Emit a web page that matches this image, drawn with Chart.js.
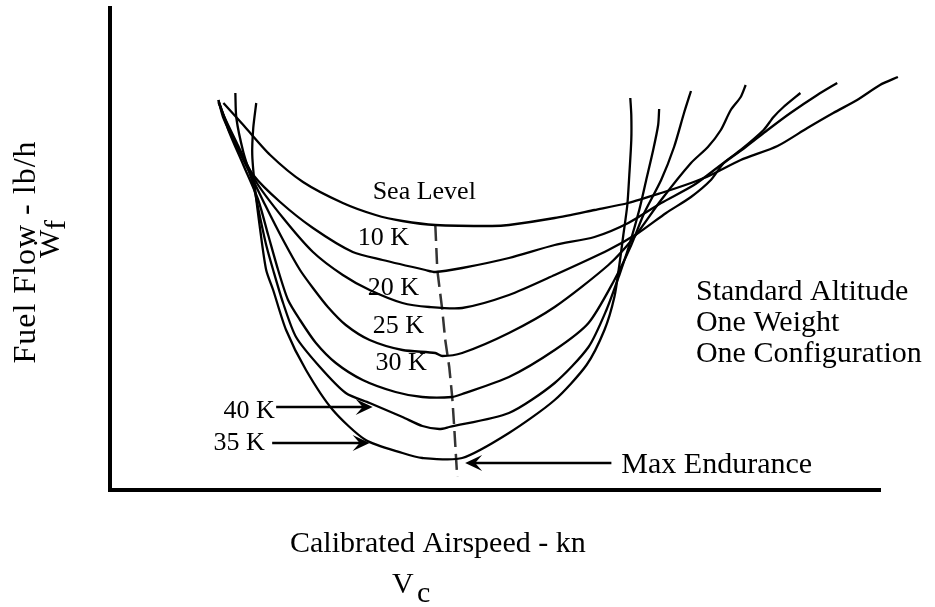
<!DOCTYPE html>
<html>
<head>
<meta charset="utf-8">
<script src="https://cdn.jsdelivr.net/npm/chart.js@4.4.1/dist/chart.umd.min.js"></script>
<style>
  html, body { margin: 0; padding: 0; background: #fff; }
  #wrap { width: 935px; height: 607px; }
</style>
</head>
<body>
<div id="wrap"><canvas id="fuelFlowChart" width="935" height="607"></canvas></div>
<script>
// schematic values: airspeed (kn) vs fuel flow (lb/h)
const altitudes = ['Sea Level', '10 K', '20 K', '25 K', '30 K', '40 K', '35 K'];

const seaLevelSpeed = [56, 66, 79.5, 96, 116, 132.5, 146, 162.5, 191, 199.5, 222.5, 242.5, 259.5, 276, 291, 301, 316, 334.5, 349.5, 362.5, 374.5, 386, 395];
const seaLevelFlow  = [3850, 3630, 3330, 3060, 2850, 2730, 2670, 2630, 2620, 2630, 2700, 2780, 2850, 2950, 3050, 3130, 3280, 3420, 3600, 3750, 3880, 4030, 4110];

const alt10kSpeed = [53.5, 56, 62.5, 71, 84.5, 101, 121, 136, 157.5, 162.5, 176, 199.5, 222.5, 242.5, 259.5, 276, 292.5, 306, 318.5, 329.5, 341, 354.5, 364.5];
const alt10kFlow  = [3880, 3700, 3430, 3130, 2860, 2600, 2360, 2280, 2180, 2160, 2200, 2300, 2430, 2510, 2650, 2850, 3030, 3230, 3410, 3580, 3750, 3930, 4050];

const alt20kSpeed = [53.5, 56, 62.5, 72.5, 86, 101, 116, 129.5, 146, 159.5, 176, 199.5, 222.5, 249.5, 264.5, 278.5, 291, 301, 307.5, 316, 327.5, 332.5, 337.5, 346];
const alt20kFlow  = [3860, 3730, 3460, 3060, 2700, 2360, 2130, 1980, 1850, 1810, 1800, 1930, 2130, 2380, 2550, 2750, 2910, 3080, 3250, 3380, 3580, 3710, 3810, 3950];

const alt25kSpeed = [54, 60, 68.5, 77, 86, 94.5, 101, 108.5, 117.5, 129.5, 146, 162.5, 166, 176, 199.5, 222.5, 249.5, 262.5, 276, 291, 299.5, 306, 311, 316, 318.5];
const alt25kFlow  = [3840, 3530, 3180, 2830, 2480, 2180, 2000, 1810, 1630, 1480, 1380, 1350, 1320, 1350, 1550, 1810, 2230, 2510, 2880, 3250, 3410, 3580, 3780, 3910, 4030];

const alt30kSpeed = [53.5, 58.5, 66, 73.5, 78.5, 83.5, 88.5, 94.5, 102.5, 112.5, 126, 142.5, 156, 171, 176, 199.5, 222.5, 239.5, 252.5, 261, 267.5, 276, 282.5, 287.5, 291];
const alt30kFlow  = [3880, 3580, 3230, 2880, 2530, 2180, 1880, 1680, 1450, 1250, 1080, 960, 910, 910, 940, 1110, 1380, 1650, 2080, 2430, 2750, 3080, 3410, 3750, 3970];

const alt40kSpeed = [62, 62.5, 66, 71, 74.5, 77.5, 81, 86, 92.5, 104.5, 117.5, 129.5, 146, 156, 164.5, 169.5, 199.5, 222.5, 239.5, 248.5, 255, 260, 265, 268.5, 272, 274.5, 275];
const alt40kFlow  = [3950, 3700, 3360, 3030, 2700, 2430, 2180, 1850, 1510, 1210, 950, 850, 710, 620, 590, 610, 750, 1050, 1410, 1780, 2130, 2430, 2780, 3080, 3380, 3630, 3790];

const alt35kSpeed = [72.5, 71, 70.5, 72, 74.5, 77.5, 81, 87.5, 97.5, 111, 127.5, 146, 156, 176, 199.5, 222.5, 238.5, 247.5, 252.5, 255, 257, 259, 260, 261, 261, 260.5];
const alt35kFlow  = [3850, 3600, 3330, 2980, 2580, 2180, 1980, 1580, 1180, 780, 480, 350, 300, 300, 550, 880, 1230, 1580, 1910, 2230, 2530, 2830, 3130, 3480, 3730, 3900];

// locus of minimum fuel flow (max endurance)
const maxEnduranceSpeed = [162.5, 163.5, 166, 167.5, 169.5, 171, 172, 173.5];
const maxEnduranceFlow  = [2630, 2180, 1780, 1480, 1210, 910, 610, 110];

const speedSeries = [seaLevelSpeed, alt10kSpeed, alt20kSpeed, alt25kSpeed, alt30kSpeed, alt40kSpeed, alt35kSpeed];
const flowSeries  = [seaLevelFlow, alt10kFlow, alt20kFlow, alt25kFlow, alt30kFlow, alt40kFlow, alt35kFlow];

function toPoints(xs, ys) {
  return xs.map((v, i) => ({ x: v, y: ys[i] }));
}

// where the text notes sit, in data units
const curveLabelSpots = [
  { x: 131, y: 2890 }, { x: 123.5, y: 2430 }, { x: 128.5, y: 1930 },
  { x: 131, y: 1550 }, { x: 132.5, y: 1180 }, { x: 56, y: 700 }, { x: 51, y: 380 }
];
const arrowSpots = [
  { from: [82.5, 810], to: [131, 810] },      // 40 K
  { from: [80.5, 450], to: [129.5, 450] },    // 35 K
  { from: [251, 250], to: [177.5, 250] }      // max endurance
];
const noteLines = ['Standard Altitude', 'One Weight', 'One Configuration'];

const SERIF = "'Liberation Serif', 'Times New Roman', serif";

function arrow(ctx, x1, y1, x2, y2) {
  const ang = Math.atan2(y2 - y1, x2 - x1);
  ctx.beginPath();
  ctx.moveTo(x1, y1);
  ctx.lineTo(x2 - 8 * Math.cos(ang), y2 - 8 * Math.sin(ang));
  ctx.stroke();
  ctx.save();
  ctx.translate(x2, y2);
  ctx.rotate(ang);
  ctx.beginPath();
  ctx.moveTo(0, 0);
  ctx.lineTo(-17, -8);
  ctx.lineTo(-10, 0);
  ctx.lineTo(-17, 8);
  ctx.closePath();
  ctx.fill();
  ctx.restore();
}

const notesPlugin = {
  id: 'notes',
  afterDatasetsDraw(chart) {
    const { ctx } = chart;
    const xs = chart.scales.x, ys = chart.scales.y;
    ctx.save();
    ctx.fillStyle = '#000';
    ctx.strokeStyle = '#000';
    ctx.textBaseline = 'alphabetic';
    ctx.textAlign = 'left';

    ctx.font = '26px ' + SERIF;
    altitudes.forEach((name, i) => {
      const s = curveLabelSpots[i];
      ctx.fillText(name, xs.getPixelForValue(s.x), ys.getPixelForValue(s.y));
    });

    ctx.lineWidth = 2.5;
    arrowSpots.forEach(a => {
      arrow(ctx, xs.getPixelForValue(a.from[0]), ys.getPixelForValue(a.from[1]),
                 xs.getPixelForValue(a.to[0]), ys.getPixelForValue(a.to[1]));
    });

    ctx.font = '30px ' + SERIF;
    ctx.fillText('Max Endurance', xs.getPixelForValue(256), ys.getPixelForValue(150));
    noteLines.forEach((t, i) => {
      ctx.fillText(t, xs.getPixelForValue(293.5), ys.getPixelForValue(1880 - i * 310));
    });

    // axis titles
    ctx.fillText('Calibrated Airspeed - kn', 290, 552);
    ctx.fillText('V', 392, 593);
    ctx.fillText('c', 417, 602);

    // rotated y title, with W-dot and subscript f on a second line
    ctx.translate(35, 252);
    ctx.rotate(-Math.PI / 2);
    ctx.textAlign = 'center';
    ctx.font = '32px ' + SERIF;
    ctx.letterSpacing = '1px';
    ctx.fillText('Fuel Flow - lb/h', 0, 0);
    ctx.letterSpacing = '0px';
    ctx.textAlign = 'left';
    ctx.font = '30px ' + SERIF;
    ctx.fillText('\u1E86', -6, 24);
    ctx.fillText('f', 22, 30);
    ctx.restore();
  }
};

const datasets = altitudes.map((name, i) => ({
  label: name,
  data: toPoints(speedSeries[i], flowSeries[i]),
  borderColor: '#000',
  borderWidth: 2.3,
  pointRadius: 0,
  tension: 0.25,
  clip: false
}));

datasets.push({
  label: 'Max Endurance',
  data: toPoints(maxEnduranceSpeed, maxEnduranceFlow),
  borderColor: '#333',
  borderWidth: 2.5,
  borderDash: [16, 7],
  pointRadius: 0,
  tension: 0,
  clip: false
});

new Chart(document.getElementById('fuelFlowChart').getContext('2d'), {
  type: 'line',
  data: { datasets },
  options: {
    responsive: false,
    animation: false,
    devicePixelRatio: 1,
    layout: { padding: { left: 110, right: 55, top: 8, bottom: 117 } },
    plugins: { legend: { display: false }, tooltip: { enabled: false } },
    scales: {
      x: {
        type: 'linear', bounds: 'data',
        // range set here rather than min/max so the Sea Level curve may run past the axis end
        afterDataLimits(scale) { scale.min = -1; scale.max = 386; },
        ticks: { display: false },
        grid: { display: false, drawTicks: false },
        border: { display: true, color: '#000', width: 4 }
      },
      y: {
        type: 'linear', min: -20, max: 4800,
        ticks: { display: false },
        grid: { display: false, drawTicks: false },
        border: { display: true, color: '#000', width: 4 }
      }
    }
  },
  plugins: [notesPlugin]
});
</script>
</body>
</html>
